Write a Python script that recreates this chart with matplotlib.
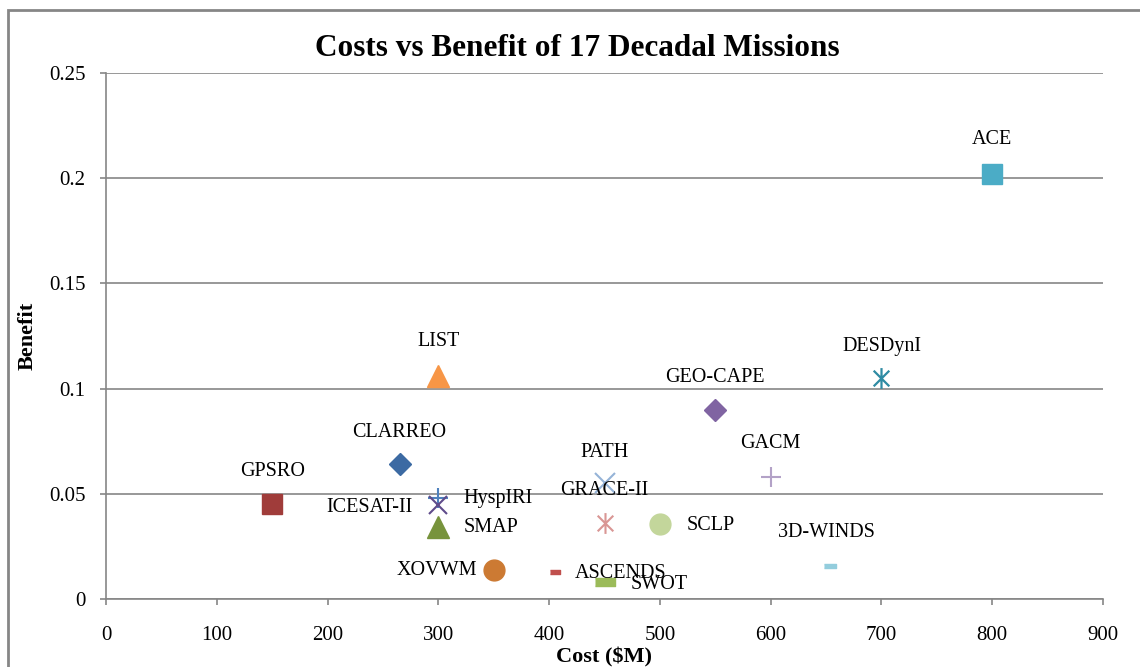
import matplotlib
matplotlib.use("Agg")
import matplotlib.pyplot as plt
from matplotlib.patches import Rectangle
from matplotlib.path import Path

# ---- data ----
missions = ["ACE", "LIST", "DESDynI", "GEO-CAPE", "CLARREO", "GACM", "PATH",
            "GPSRO", "HyspIRI", "ICESAT-II", "SMAP", "GRACE-II", "SCLP",
            "XOVWM", "ASCENDS", "SWOT", "3D-WINDS"]
cost = [800, 300, 700, 550, 265, 600, 450, 150, 300, 300, 300, 450, 500,
        350, 405, 450, 654]
benefit = [0.202, 0.106, 0.105, 0.090, 0.064, 0.058, 0.055, 0.045, 0.048,
           0.0445, 0.034, 0.036, 0.0355, 0.0138, 0.0128, 0.008, 0.0157]
x_ticks = [0, 100, 200, 300, 400, 500, 600, 700, 800, 900]
y_ticks = [0, 0.05, 0.1, 0.15, 0.2, 0.25]
y_tick_labels = ["0", "0.05", "0.1", "0.15", "0.2", "0.25"]

# ---- styles ----
dash_s = [(-1, -0.35), (1, -0.35), (1, 0.35), (-1, 0.35)]
star = Path([(0, -1), (0, 1), (-0.75, -0.75), (0.75, 0.75),
             (-0.75, 0.75), (0.75, -0.75)],
            [Path.MOVETO, Path.LINETO, Path.MOVETO, Path.LINETO,
             Path.MOVETO, Path.LINETO])
styles = {
    "ACE":       dict(marker="s", color="#4BACC6", size=15),
    "LIST":      dict(marker="^", color="#F79646", size=16),
    "DESDynI":   dict(marker=star, color="#2E8BA3", size=15, lw=1.6),
    "GEO-CAPE":  dict(marker="D", color="#8064A2", size=11),
    "CLARREO":   dict(marker="D", color="#3C6AA3", size=11),
    "GACM":      dict(marker="+", color="#B3A2C7", size=15, lw=1.5),
    "PATH":      dict(marker="x", color="#95B3D7", size=14, lw=1.5),
    "GPSRO":     dict(marker="s", color="#A03C3A", size=15),
    "HyspIRI":   dict(marker="+", color="#4F81BD", size=14, lw=1.5),
    "ICESAT-II": dict(marker="x", color="#5F4B8B", size=13, lw=1.5),
    "SMAP":      dict(marker="^", color="#77933C", size=16),
    "GRACE-II":  dict(marker=star, color="#D99694", size=15, lw=1.5),
    "SCLP":      dict(marker="o", color="#C3D69B", size=15),
    "XOVWM":     dict(marker="o", color="#CC7A33", size=15),
    "ASCENDS":   dict(marker=dash_s, color="#C0504D", size=7),
    "SWOT":      dict(marker=dash_s, color="#9BBB59", size=15),
    "3D-WINDS":  dict(marker=dash_s, color="#93CDDD", size=8),
}
# label offsets in pixels (dx, dy, ha)
label_pos = {
    "ACE": (0, 34, "center"), "LIST": (0, 34, "center"),
    "DESDynI": (0, 32, "center"), "GEO-CAPE": (0, 32, "center"),
    "CLARREO": (0, 32, "center"), "GACM": (0, 33, "center"),
    "PATH": (0, 31, "center"), "GPSRO": (0, 33, "center"),
    "3D-WINDS": (-4, 33, "center"), "GRACE-II": (0, 33, "center"),
    "HyspIRI": (25, 0, "left"), "SMAP": (25, 0, "left"),
    "SCLP": (27, -1, "left"), "ASCENDS": (20, -1, "left"),
    "SWOT": (26, -2, "left"), "ICESAT-II": (-26, -2, "right"),
    "XOVWM": (-17, -1, "right"),
}

plt.rcParams["font.family"] = ["Liberation Serif", "DejaVu Serif"]

fig = plt.figure(figsize=(11.4, 6.67), dpi=100)
ax = fig.add_axes([106 / 1140, 68 / 667, 997 / 1140, 526 / 667])

# outer chart border
fig.patches.append(Rectangle((8 / 1140, -0.05), 1.2, (667 - 10) / 667 + 0.05,
                             transform=fig.transFigure, fill=False,
                             edgecolor="#868686", lw=2, zorder=0))

for name, x, y in zip(missions, cost, benefit):
    st = styles[name]
    ax.plot([x], [y], linestyle="none", marker=st["marker"],
            markersize=st["size"], color=st["color"],
            markeredgecolor=st["color"], markeredgewidth=st.get("lw", 1.0),
            zorder=3, clip_on=False)
    dx, dy, ha = label_pos[name]
    ax.annotate(name, (x, y), xytext=(dx * 0.72, dy * 0.72),
                textcoords="offset points", ha=ha, va="center",
                fontsize=14.5, color="black", zorder=4)

ax.set_xlim(0, 900)
ax.set_ylim(0, 0.25)
ax.set_xticks(x_ticks)
ax.set_xticklabels([str(v) for v in x_ticks])
ax.set_yticks(y_ticks)
ax.set_yticklabels(y_tick_labels)
ax.yaxis.grid(True, color="#868686", lw=1.2)
ax.set_axisbelow(True)
for s in ["top", "right"]:
    ax.spines[s].set_visible(False)
for s in ["left", "bottom"]:
    ax.spines[s].set_color("#868686")
    ax.spines[s].set_linewidth(1.2)
ax.tick_params(axis="both", direction="out", length=4.3, width=1.2,
               color="#868686", labelsize=15)
ax.tick_params(axis="x", pad=15)
ax.tick_params(axis="y", pad=10.5)

ax.set_xlabel("Cost ($M)", fontsize=16, fontweight="bold", labelpad=2)
ax.set_ylabel("Benefit", fontsize=16, fontweight="bold", labelpad=8)
fig.text(577 / 1140, 1 - 49 / 667, "Costs vs Benefit of 17 Decadal Missions",
         ha="center", va="center", fontsize=22.5, fontweight="bold")

fig.savefig("out.png", dpi=100)
